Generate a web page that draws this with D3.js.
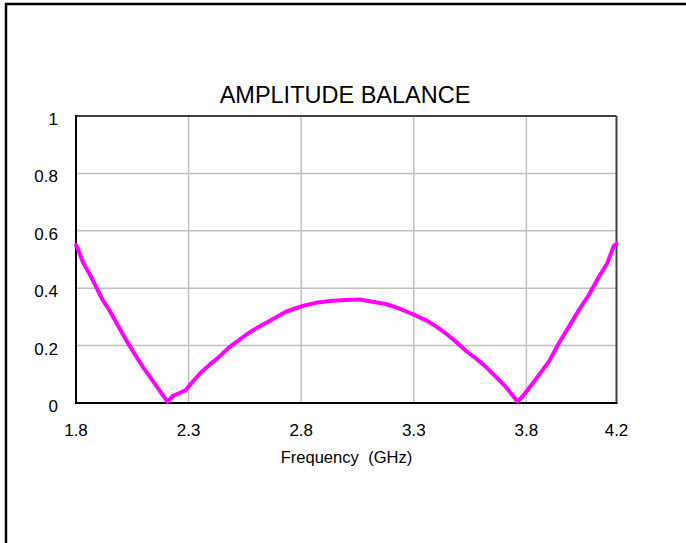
<!DOCTYPE html>
<html><head><meta charset="utf-8">
<script src="https://cdn.jsdelivr.net/npm/d3@7"></script>
<style>body{margin:0;background:#fff}svg{display:block}text{font-family:"Liberation Sans",Arial,sans-serif;fill:#000}</style>
</head><body><svg id="c" width="686" height="543"></svg>
<script>
const title = "AMPLITUDE BALANCE";
const xLabel = "Frequency (GHz)";
const xTicks = [1.8, 2.3, 2.8, 3.3, 3.8, 4.2];
const yTicks = [0, 0.2, 0.4, 0.6, 0.8, 1];
const freq = [1.8,1.804,1.83,1.867,1.896,1.918,1.948,1.985,2.022,2.059,2.096,2.133,2.17,2.196,2.207,2.229,2.258,2.288,2.318,2.355,2.392,2.436,2.48,2.525,2.569,2.613,2.673,2.732,2.806,2.865,2.939,2.998,3.057,3.116,3.175,3.234,3.294,3.353,3.397,3.442,3.486,3.531,3.575,3.619,3.664,3.708,3.737,3.76,3.782,3.819,3.856,3.9,3.944,3.989,4.033,4.077,4.122,4.159,4.188,4.2];
const balance = [0.55,0.545,0.492,0.44,0.394,0.359,0.324,0.272,0.22,0.173,0.127,0.086,0.045,0.016,0.004,0.024,0.034,0.045,0.074,0.106,0.132,0.161,0.194,0.22,0.245,0.266,0.292,0.318,0.338,0.349,0.356,0.359,0.361,0.353,0.345,0.33,0.31,0.289,0.268,0.243,0.214,0.182,0.156,0.127,0.092,0.057,0.028,0.006,0.022,0.059,0.098,0.144,0.208,0.266,0.324,0.376,0.44,0.487,0.547,0.555];

const svg = d3.select("#c");
const L = 76, R = 616.5, T = 116, B = 403;
const x = d3.scaleLinear().domain([1.8, 4.2]).range([L, R]);
const y = d3.scaleLinear().domain([0, 1]).range([B, T]);

// outer frame (top and left)
svg.append("line").attr("x1",5).attr("x2",686).attr("y1",4).attr("y2",4).attr("stroke","#000").attr("stroke-width",2.5);
svg.append("line").attr("x1",6).attr("x2",6).attr("y1",3).attr("y2",543).attr("stroke","#000").attr("stroke-width",2.5);

// grid
svg.append("g").selectAll("line").data(xTicks.slice(1,-1)).join("line")
  .attr("x1",d=>x(d)).attr("x2",d=>x(d)).attr("y1",T).attr("y2",B)
  .attr("stroke","#c0c0c0").attr("stroke-width",1.5);
svg.append("g").selectAll("line").data(yTicks.slice(1,-1)).join("line")
  .attr("x1",L).attr("x2",R).attr("y1",d=>y(d)).attr("y2",d=>y(d))
  .attr("stroke","#c0c0c0").attr("stroke-width",1.5);

// frame
svg.append("line").attr("x1",L).attr("x2",R).attr("y1",T).attr("y2",T).attr("stroke","#404040").attr("stroke-width",2);
svg.append("line").attr("x1",R).attr("x2",R).attr("y1",T).attr("y2",B).attr("stroke","#404040").attr("stroke-width",2);
svg.append("line").attr("x1",L).attr("x2",L).attr("y1",T-1).attr("y2",B+1).attr("stroke","#000").attr("stroke-width",2);
svg.append("line").attr("x1",L-1).attr("x2",R+1).attr("y1",B).attr("y2",B).attr("stroke","#000").attr("stroke-width",2);

// curve
const pts = freq.map((f,i)=>[f, balance[i]]);
svg.append("path").datum(pts)
  .attr("d", d3.line().x(d=>x(d[0])).y(d=>y(d[1])))
  .attr("fill","none").attr("stroke","#ff00ff").attr("stroke-width",4)
  .attr("stroke-linejoin","round").attr("stroke-linecap","round");

// tick labels
svg.append("g").selectAll("text").data(yTicks).join("text")
  .attr("x",58).attr("y",d=>y(d)+9).attr("text-anchor","end")
  .style("font-size","17px").text(d=>d3.format("")(d));
svg.append("g").selectAll("text").data(xTicks).join("text")
  .attr("x",d=>x(d)).attr("y",436).attr("text-anchor","middle")
  .style("font-size","17px").text(d=>d.toFixed(1));

// axis title
svg.append("text").attr("x",346.5).attr("y",462.5).attr("text-anchor","middle")
  .style("font-size","16.5px").style("word-spacing","5px").text(xLabel);
// title
svg.append("text").attr("x",345).attr("y",103).attr("text-anchor","middle")
  .style("font-size","23.5px").text(title);
</script></body></html>
